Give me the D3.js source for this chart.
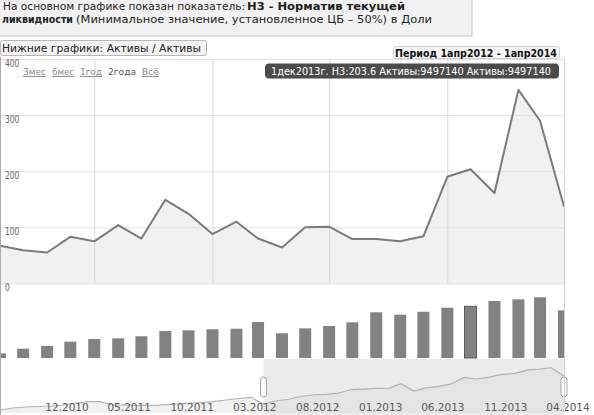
<!DOCTYPE html>
<html>
<head>
<meta charset="utf-8">
<script src="https://cdn.jsdelivr.net/npm/d3@7"></script>
<style>
  html, body { margin: 0; padding: 0; background: #fff; }
  svg { display: block; font-family: "DejaVu Sans", Verdana, sans-serif; }
</style>
</head>
<body>
<svg id="chart" width="594" height="415"></svg>
<script>
"use strict";

// monthly data, first month of the navigator = July 2010
var firstMonth = new Date(2010, 6, 1);
var selStart = new Date(2012, 3, 1);
var selEnd = new Date(2014, 3, 1);

// Активы, Jul 2010 .. Apr 2014
var assets = [
  800000, 1280000, 1510000, 1630000, 1750000, 1990000,
  2470000, 2780000, 2780000, 1990000, 2000000, 1870000,
  1870000, 2040000, 2230000, 2400000, 2560000, 2780000,
  3180000, 3540000, 3830000,
  2230000, 2940000, 3360000, 4020000, 4440000, 4550000,
  4860000, 5680000, 5780000, 5940000, 6030000, 7070000,
  5320000, 6090000, 6450000, 7020000, 8570000, 8200000,
  8660000, 9280000, 9497140, 10320000, 10580000, 10890000,
  8880000
];

// Н3, Apr 2012 .. Apr 2014
var n3 = [
  67, 59, 55, 83, 75, 104, 80, 149, 124, 88, 110, 80, 64,
  100, 101, 79, 79, 75, 84, 190, 203.6, 161, 345, 290, 137
];

var yTicks = [0, 100, 200, 300, 400];
var gridMonths = [new Date(2012, 7, 1), new Date(2013, 0, 1), new Date(2013, 5, 1), new Date(2013, 10, 1)];
var navLabels = ["12.2010", "05.2011", "10.2011", "03.2012", "08.2012", "01.2013", "06.2013", "11.2013", "04.2014"];
var navLabelMonths = [new Date(2010, 11, 1), new Date(2011, 4, 1), new Date(2011, 9, 1), new Date(2012, 2, 1),
  new Date(2012, 7, 1), new Date(2013, 0, 1), new Date(2013, 5, 1), new Date(2013, 10, 1), new Date(2014, 3, 1)];
var rangeButtons = ["3мес", "6мес", "1год", "2года", "Всё"];
var selectedButton = 3;
var hoverIndex = 20;

var months = d3.timeMonth.range(firstMonth, d3.timeMonth.offset(selEnd, 1));
var allData = months.map(function (d, i) { return { date: d, assets: assets[i] }; });
var shown = allData.filter(function (d) { return d.date >= selStart; });
shown.forEach(function (d, i) { d.n3 = n3[i]; });

var svg = d3.select("#chart");
var plotW = 564;

var x = d3.scaleTime().domain([selStart, selEnd]).range([0, plotW]);
var y = d3.scaleLinear().domain([0, 400]).range([283.4, 59]);
var yBar = d3.scaleLinear().domain([1500000, 12950000]).range([358, 284]);
var xNav = d3.scaleTime().domain([firstMonth, selEnd]).range([0, plotW]);
var yNav = d3.scaleLinear().domain([800000, 12250000]).range([410, 362]);

svg.append("defs").append("clipPath").attr("id", "plotClip")
  .append("rect").attr("x", 0).attr("y", 0).attr("width", plotW).attr("height", 415);

// header box
svg.append("rect").attr("x", -1).attr("y", -1).attr("width", 473).attr("height", 37)
  .attr("fill", "#f2f2f2").attr("stroke", "#c4c4c4");
function txt(s, xx, yy, len, size, bold, color) {
  return svg.append("text").attr("x", xx).attr("y", yy).text(s)
    .attr("font-size", size).attr("font-weight", bold ? "bold" : "normal")
    .attr("fill", color || "#222")
    .attr("textLength", len).attr("lengthAdjust", "spacingAndGlyphs");
}
txt("На основном графике показан показатель:", 3, 9.5, 242, 10.5, false);
txt("Н3 - Норматив текущей", 247, 9.5, 158, 10.5, true);
txt("ликвидности", 2, 22.5, 71, 10.5, true);
txt("(Минимальное значение, установленное ЦБ – 50%) в Доли", 76, 22.5, 356, 10.5, false);

// plot gridlines
var gy = svg.append("g").attr("class", "grid-y")
  .call(d3.axisLeft(y).tickValues(yTicks).tickSize(-plotW).tickFormat(""));
gy.select(".domain").remove();
gy.selectAll("line").attr("stroke", "#d9d9d9");

var gx = svg.append("g").attr("class", "grid-x").attr("transform", "translate(0,283.4)")
  .call(d3.axisBottom(x).tickValues(gridMonths).tickSize(-(283.4 - 59)).tickFormat(""));
gx.select(".domain").remove();
gx.selectAll("line").attr("stroke", "#d9d9d9");

// main area + line
var area = d3.area().x(function (d) { return x(d.date); })
  .y0(y(0)).y1(function (d) { return y(d.n3); });
var line = d3.line().x(function (d) { return x(d.date); }).y(function (d) { return y(d.n3); });
svg.append("path").datum(shown).attr("d", area).attr("fill", "#f1f1f1");
gy.raise();
gy.selectAll("line").attr("stroke-opacity", 0.8);
gx.raise();
svg.append("path").datum(shown).attr("d", line).attr("fill", "none")
  .attr("stroke", "#7b7b7b").attr("stroke-width", 2).attr("stroke-linejoin", "round");

// y labels
svg.append("g").selectAll("text").data(yTicks).enter().append("text")
  .attr("x", 5).attr("y", function (d) { return y(d) + 7.5; })
  .attr("font-size", 10).attr("fill", "#666")
  .attr("textLength", function (d) { return String(d).length * 4.8; })
  .attr("lengthAdjust", "spacingAndGlyphs")
  .text(function (d) { return d; });

// bars
var barW = 12;
svg.append("g").attr("clip-path", "url(#plotClip)").selectAll("rect").data(shown).enter().append("rect")
  .attr("x", function (d) { return x(d.date) - barW / 2; })
  .attr("y", function (d) { return yBar(d.assets); })
  .attr("width", barW)
  .attr("height", function (d) { return yBar.range()[0] - yBar(d.assets); })
  .attr("fill", "#828282")
  .attr("stroke", function (d, i) { return i === hoverIndex ? "#5a5a5a" : "none"; })
  .attr("stroke-width", 1);

// navigator
svg.append("rect").attr("x", xNav(selStart)).attr("y", 359).attr("width", xNav(selEnd) - xNav(selStart))
  .attr("height", 56).attr("fill", "#ebebeb");
var navArea = d3.area().x(function (d) { return xNav(d.date); })
  .y0(413).y1(function (d) { return yNav(d.assets); });
var navLine = d3.line().x(function (d) { return xNav(d.date); }).y(function (d) { return yNav(d.assets); });
svg.append("path").datum(allData).attr("d", navArea).attr("fill", "#d8d8d8").attr("fill-opacity", 0.35);
svg.append("path").datum(allData).attr("d", navLine).attr("fill", "none")
  .attr("stroke", "#b2b2b2").attr("stroke-width", 1.2);

svg.append("g").selectAll("text").data(navLabels).enter().append("text")
  .attr("x", function (d, i) { return xNav(navLabelMonths[i]) + 4; })
  .attr("y", 410.5).attr("text-anchor", "middle")
  .attr("font-size", 10.5).attr("fill", "#5a5a5a")
  .text(function (d) { return d; });

[selStart, selEnd].forEach(function (d) {
  svg.append("rect").attr("x", xNav(d) - 3).attr("y", 377).attr("width", 6).attr("height", 20)
    .attr("rx", 3).attr("fill", "#f9f9f9").attr("stroke", "#a8a8a8");
});

// borders
svg.append("line").attr("x1", 0.5).attr("x2", 0.5).attr("y1", 57).attr("y2", 415).attr("stroke", "#aaa");
svg.append("line").attr("x1", plotW + 0.5).attr("x2", plotW + 0.5).attr("y1", 59).attr("y2", 412).attr("stroke", "#d4d4d4");

// lower charts caption + period
svg.append("rect").attr("x", 0.5).attr("y", 40.5).attr("width", 206).attr("height", 15).attr("rx", 2)
  .attr("fill", "#f4f4f4").attr("stroke", "#b8b8b8");
txt("Нижние графики: Активы / Активы", 2, 52, 199, 11, false, "#222");

svg.append("rect").attr("x", 393.5).attr("y", 46.5).attr("width", 166).attr("height", 12).attr("rx", 2)
  .attr("fill", "#f6f6f6").attr("stroke", "#cfcfcf");
txt("Период 1апр2012 - 1апр2014", 395, 56.5, 162, 10.5, true, "#111");

// range selector
var btnX = [23, 52, 80, 108, 142];
var btnW = [23, 22, 22, 28, 17];
svg.append("g").selectAll("text").data(rangeButtons).enter().append("text")
  .attr("x", function (d, i) { return btnX[i]; }).attr("y", 75)
  .attr("font-size", 9.5)
  .attr("fill", function (d, i) { return i === selectedButton ? "#555" : "#8a8a8a"; })
  .attr("text-decoration", function (d, i) { return i === selectedButton ? "none" : "underline"; })
  .attr("textLength", function (d, i) { return btnW[i]; })
  .attr("lengthAdjust", "spacingAndGlyphs")
  .text(function (d) { return d; });

// tooltip
var hov = shown[hoverIndex];
var tipText = "1дек2013г. Н3:" + hov.n3 + " Активы:" + hov.assets + " Активы:" + hov.assets;
svg.append("rect").attr("x", 265).attr("y", 63.5).attr("width", 294).attr("height", 15).attr("rx", 4)
  .attr("fill", "#4b4b4b");
txt(tipText, 271, 74.5, 280, 10, false, "#fff");
</script>
</body>
</html>
